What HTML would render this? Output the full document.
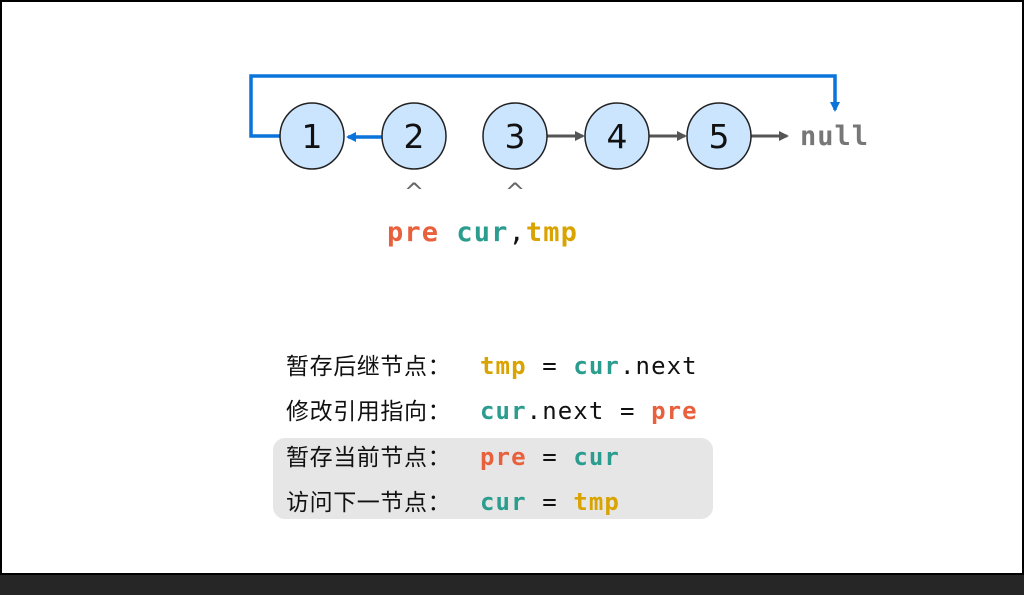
<!DOCTYPE html>
<html><head><meta charset="utf-8"><style>
body{margin:0;width:1024px;height:595px;overflow:hidden;background:#262626;position:relative}
.frame{position:absolute;left:0;top:0;width:1020px;height:571px;border:2px solid #000;background:#fff}
.row{position:absolute;left:286px;font-size:23px;letter-spacing:0.6px;font-family:"Liberation Sans","Noto Sans CJK SC",sans-serif;color:#111;line-height:30px}
.code{position:absolute;left:480px;font-family:"DejaVu Sans Mono","Liberation Mono",monospace;font-size:24px;letter-spacing:1.1px;color:#111;line-height:30px}
.r{color:#e8603c;font-weight:bold}.g{color:#2a9d8f;font-weight:bold}.y{color:#d9a300;font-weight:bold}
</style></head><body>
<div class="frame"></div>
<svg width="1024" height="595" style="position:absolute;left:0;top:0">
<defs>
<marker id="b" markerWidth="10" markerHeight="10" refX="8" refY="5" orient="auto" markerUnits="userSpaceOnUse"><path d="M0,0 L10,5 L0,10z" fill="#0a74da"/></marker>
<marker id="k" markerWidth="10" markerHeight="10" refX="8" refY="5" orient="auto" markerUnits="userSpaceOnUse"><path d="M0,0 L10,5 L0,10z" fill="#555"/></marker>
</defs>
<path d="M280,136 H251 V76 H835 V110" fill="none" stroke="#0a74da" stroke-width="3.5" marker-end="url(#b)"/>
<line x1="382" y1="137" x2="348" y2="137" stroke="#0a74da" stroke-width="3.5" marker-end="url(#b)"/>
<line x1="547" y1="136" x2="583" y2="136" stroke="#555" stroke-width="3" marker-end="url(#k)"/>
<line x1="649" y1="136" x2="685" y2="136" stroke="#555" stroke-width="3" marker-end="url(#k)"/>
<line x1="751" y1="136" x2="787" y2="136" stroke="#555" stroke-width="3" marker-end="url(#k)"/>
<g fill="#cce5ff" stroke="#222" stroke-width="1.5">
<ellipse cx="312" cy="136" rx="32" ry="33"/><ellipse cx="414" cy="136" rx="32" ry="33"/><ellipse cx="515" cy="136" rx="32" ry="33"/><ellipse cx="617" cy="136" rx="32" ry="33"/><ellipse cx="719" cy="136" rx="32" ry="33"/>
</g>
<g font-family="DejaVu Sans,sans-serif" font-size="33" text-anchor="middle" fill="#111">
<text x="312" y="148">1</text><text x="414" y="148">2</text><text x="515" y="148">3</text><text x="617" y="148">4</text><text x="719" y="148">5</text>
</g>
<text x="800" y="145" font-family="DejaVu Sans Mono,monospace" font-weight="bold" font-size="27" letter-spacing="1" fill="#777">null</text>
<text x="414" y="200" text-anchor="middle" font-family="DejaVu Sans,sans-serif" font-size="24" fill="#666">^</text>
<text x="515" y="200" text-anchor="middle" font-family="DejaVu Sans,sans-serif" font-size="24" fill="#666">^</text>
<text x="387" y="241" font-family="DejaVu Sans Mono,monospace" font-weight="bold" font-size="27" letter-spacing="1.1"><tspan fill="#e8603c">pre</tspan><tspan fill="#2a9d8f"> cur</tspan><tspan fill="#111" font-weight="normal">,</tspan><tspan fill="#d9a300">tmp</tspan></text>
<rect x="273" y="438" width="440" height="81" rx="12" fill="#e6e6e6"/>
</svg>
<div class="row" style="top:351px">暂存后继节点：</div><div class="code" style="top:351px"><span class="y">tmp</span> = <span class="g">cur</span>.next</div>
<div class="row" style="top:396px">修改引用指向：</div><div class="code" style="top:396px"><span class="g">cur</span>.next = <span class="r">pre</span></div>
<div class="row" style="top:442px">暂存当前节点：</div><div class="code" style="top:442px"><span class="r">pre</span> = <span class="g">cur</span></div>
<div class="row" style="top:487px">访问下一节点：</div><div class="code" style="top:487px"><span class="g">cur</span> = <span class="y">tmp</span></div>
</body></html>
